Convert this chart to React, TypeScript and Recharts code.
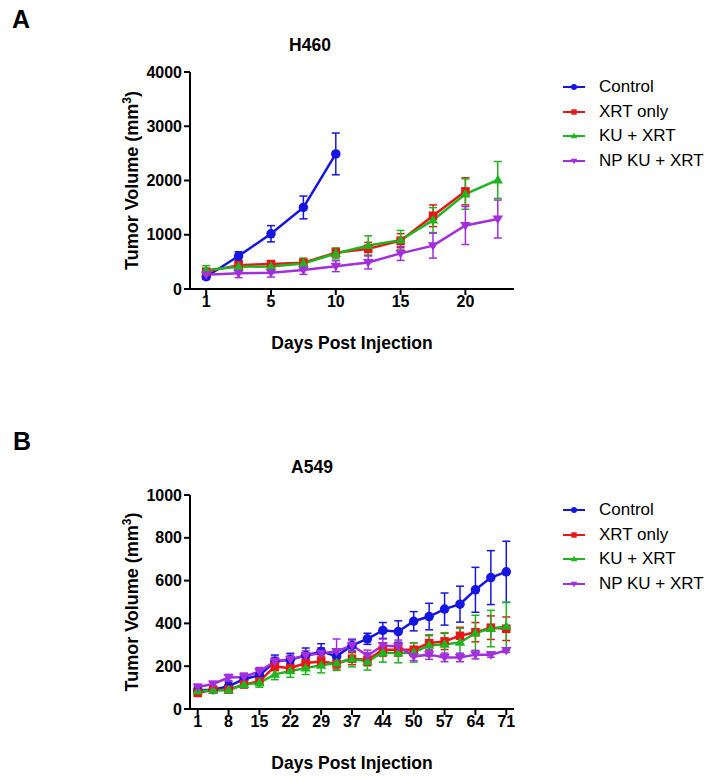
import React from 'react';
import { LineChart, Line, XAxis, YAxis, ErrorBar, Legend, Label } from 'recharts';

// colours / series
const SERIES = [
  { key: 'control', name: 'Control', color: '#1616e0', shape: 'circle' },
  { key: 'xrt', name: 'XRT only', color: '#e81717', shape: 'square' },
  { key: 'ku', name: 'KU + XRT', color: '#1fb51f', shape: 'triangle' },
  { key: 'np', name: 'NP KU + XRT', color: '#a22ede', shape: 'triangleDown' },
];

// panel A - H460
const aTickLabels = ['1', '5', '10', '15', '20'];
const aControl = [227, 607, 1018, 1503, 2490];
const aControlErr = [50, 80, 150, 210, 385];
const aXrt = [320, 440, 460, 485, 670, 740, 890, 1350, 1800];
const aXrtErr = [50, 60, 60, 60, 80, 120, 130, 200, 250];
const aKu = [350, 410, 415, 470, 655, 800, 900, 1270, 1750, 2010];
const aKuErr = [80, 60, 70, 100, 100, 180, 180, 230, 280, 340];
const aNp = [264, 290, 300, 350, 420, 490, 657, 800, 1170, 1290];
const aNpErr = [60, 80, 80, 80, 100, 120, 130, 230, 350, 350];
const aYTicks = [0, 1000, 2000, 3000, 4000];

// panel B - A549
const bTickLabels = ['1', '8', '15', '22', '29', '37', '44', '50', '57', '64', '71'];
const bControl = [88, 90, 106, 140, 157, 222, 230, 250, 269, 246, 297, 328, 367, 362, 410, 432, 467, 490, 557, 614, 641];
const bControlErr = [15, 15, 20, 22, 25, 30, 30, 35, 36, 30, 29, 26, 37, 50, 45, 62, 75, 84, 105, 126, 143];
const bXrt = [75, 90, 90, 115, 129, 199, 191, 215, 222, 212, 235, 230, 277, 277, 277, 308, 316, 342, 359, 380, 375];
const bXrtErr = [10, 12, 12, 15, 18, 20, 22, 25, 25, 25, 28, 28, 30, 30, 32, 35, 38, 40, 45, 55, 55];
const bKu = [84, 87, 88, 114, 122, 162, 178, 191, 204, 215, 235, 222, 264, 261, 264, 297, 302, 311, 355, 376, 386];
const bKuErr = [10, 12, 12, 15, 20, 25, 30, 30, 35, 35, 38, 40, 45, 45, 45, 50, 55, 66, 83, 85, 113];
const bNp = [103, 117, 147, 150, 176, 222, 232, 250, 261, 269, 297, 250, 297, 292, 246, 254, 241, 241, 254, 254, 274];
const bNpErr = [12, 12, 15, 18, 18, 20, 20, 22, 25, 58, 25, 25, 30, 30, 20, 22, 20, 20, 20, 12, 10];
const bYTicks = [0, 200, 400, 600, 800, 1000];

function buildRows(n: number, vals: number[][], errs: number[][]) {
  const rows: any[] = [];
  for (let i = 0; i < n; i++) {
    const r: any = { x: i };
    SERIES.forEach((s, k) => {
      r[s.key] = vals[k][i];
      r[s.key + 'Err'] = errs[k][i];
    });
    rows.push(r);
  }
  return rows;
}

const aRows = buildRows(10, [aControl, aXrt, aKu, aNp], [aControlErr, aXrtErr, aKuErr, aNpErr]);
const bRows = buildRows(21, [bControl, bXrt, bKu, bNp], [bControlErr, bXrtErr, bKuErr, bNpErr]);

function marker(shape: string, cx: number, cy: number, color: string, s: number, key?: any) {
  if (shape === 'circle') return <circle key={key} cx={cx} cy={cy} r={s * 0.5} fill={color} />;
  if (shape === 'square')
    return <rect key={key} x={cx - s * 0.45} y={cy - s * 0.45} width={s * 0.9} height={s * 0.9} fill={color} />;
  const h = s * 0.9;
  const w = s * 0.55;
  if (shape === 'triangle')
    return <polygon key={key} points={`${cx},${cy - h * 0.6} ${cx - w},${cy + h * 0.4} ${cx + w},${cy + h * 0.4}`} fill={color} />;
  return <polygon key={key} points={`${cx},${cy + h * 0.6} ${cx - w},${cy - h * 0.4} ${cx + w},${cy - h * 0.4}`} fill={color} />;
}

const makeDot = (shape: string, color: string) => (p: any) => {
  const k = `${shape}-${p.index}`;
  if (p.cx == null || p.cy == null || p.value == null) return <g key={k} />;
  return marker(shape, p.cx, p.cy, color, 9.5, k);
};

const renderLegend = () => (
  <div style={{ fontSize: 17, color: '#000' }}>
    {SERIES.map((s) => (
      <div key={s.key} style={{ display: 'flex', alignItems: 'center', height: 24.5 }}>
        <svg width={36} height={14} style={{ flexShrink: 0 }}>
          <line x1={0} x2={22} y1={7} y2={7} stroke={s.color} strokeWidth={2} />
          {marker(s.shape, 11, 7, s.color, 6)}
        </svg>
        <span style={{ whiteSpace: 'nowrap' }}>{s.name}</span>
      </div>
    ))}
  </div>
);

const renderYLabel = (props: any) => {
  const vb = props.viewBox || { x: 82, y: 64, width: 100, height: 217 };
  const cx = vb.x + vb.width / 2 - 2;
  const cy = vb.y + vb.height / 2;
  return (
    <text
      x={cx}
      y={cy}
      transform={`rotate(-90 ${cx} ${cy})`}
      textAnchor="middle"
      fontSize={18}
      fontWeight="bold"
      fill="#000"
    >
      Tumor Volume (mm
      <tspan dy={-7} fontSize={12}>3</tspan>
      <tspan dy={7}>)</tspan>
    </text>
  );
};

const axisStroke = { stroke: '#000', strokeWidth: 2 };
const tickStyle = { fill: '#000', fontSize: 16, fontWeight: 'bold' as const };

function Panel({
  rows,
  n,
  tickLabels,
  yTicks,
  yMax,
  top,
  bottom,
}: {
  rows: any[];
  n: number;
  tickLabels: string[];
  yTicks: number[];
  yMax: number;
  top: number;
  bottom: number;
}) {
  const xTicks = tickLabels.map((_, i) => i * 2);
  return (
    <LineChart width={698} height={360} data={rows} margin={{ top, right: 192, bottom, left: 82 }}>
      <XAxis
        dataKey="x"
        type="number"
        domain={[-0.5, n - 0.5]}
        ticks={xTicks}
        tickFormatter={(v: number) => tickLabels[Math.round(v / 2)]}
        axisLine={axisStroke}
        tickLine={axisStroke}
        tick={tickStyle}
        tickSize={6}
        tickMargin={1}
        height={60}
        label={{
          value: 'Days Post Injection',
          position: 'insideBottom',
          offset: 0,
          style: { fill: '#000', fontSize: 17.5, fontWeight: 'bold' },
        }}
      />
      <YAxis
        type="number"
        domain={[0, yMax]}
        ticks={yTicks}
        axisLine={axisStroke}
        tickLine={axisStroke}
        tick={tickStyle}
        tickSize={6}
        tickMargin={2}
        width={100}
      >
        <Label position="center" content={renderYLabel} />
      </YAxis>
      <Legend
        layout="vertical"
        align="center"
        verticalAlign="middle"
        content={renderLegend}
        wrapperStyle={{ left: 555, top: top + 3, width: 160 }}
      />
      {SERIES.map((s) => (
        <Line
          key={s.key}
          dataKey={s.key}
          name={s.name}
          type="linear"
          stroke={s.color}
          strokeWidth={2.5}
          dot={makeDot(s.shape, s.color)}
          activeDot={false}
          isAnimationActive={false}
        >
          <ErrorBar
            dataKey={s.key + 'Err'}
            direction="y"
            width={4}
            stroke={s.color}
            strokeWidth={1.5}
            isAnimationActive={false}
          />
        </Line>
      ))}
    </LineChart>
  );
}

export default function App() {
  const letter = { position: 'absolute' as const, fontSize: 25, fontWeight: 'bold' as const, lineHeight: 1 };
  const title = {
    position: 'absolute' as const,
    width: 200,
    textAlign: 'center' as const,
    fontSize: 17.5,
    fontWeight: 'bold' as const,
    lineHeight: 1,
  };
  return (
    <div
      style={{
        position: 'relative',
        width: 698,
        height: 772,
        fontFamily: 'Arial, "Liberation Sans", sans-serif',
        color: '#000',
        background: '#fff',
      }}
    >
      <div style={{ position: 'absolute', left: 0, top: 0 }}>
        <Panel rows={aRows} n={10} tickLabels={aTickLabels} yTicks={aYTicks} yMax={4000} top={64} bottom={19} />
      </div>
      <div style={{ position: 'absolute', left: 0, top: 412 }}>
        <Panel rows={bRows} n={21} tickLabels={bTickLabels} yTicks={bYTicks} yMax={1000} top={75} bottom={11} />
      </div>
      <div style={{ ...letter, left: 4, top: -1 }}>A</div>
      <div style={{ ...letter, left: 5, top: 421 }}>B</div>
      <div style={{ ...title, left: 202, top: 29 }}>H460</div>
      <div style={{ ...title, left: 204, top: 451 }}>A549</div>
    </div>
  );
}
